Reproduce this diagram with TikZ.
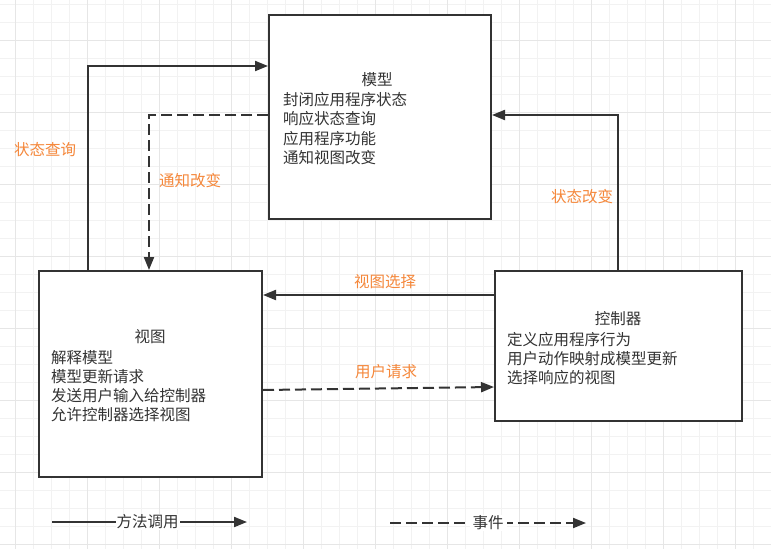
\documentclass[tikz,border=0pt]{standalone}
\usepackage{fontspec}
\newfontfamily\cjk{Noto Sans CJK SC}
\usetikzlibrary{arrows.meta}
\definecolor{ink}{HTML}{333333}
\definecolor{lblc}{HTML}{F5873A}
\definecolor{gridlight}{HTML}{F2F2F2}
\definecolor{gridheavy}{HTML}{E6E6E6}
\begin{document}
\begin{tikzpicture}[x=1pt,y=-1pt,
  box/.style={draw=ink, line width=2pt, fill=white, inner sep=0pt},
  txt/.style={font=\cjk\fontsize{15.5}{19.2}\selectfont, text=ink, inner sep=0pt},
  body/.style={txt, align=left, anchor=west},
  lbl/.style={font=\cjk\fontsize{15.5}{19.2}\selectfont, text=lblc, inner sep=0pt},
  call/.style={draw=ink, line width=2pt, -{Triangle[length=13pt,width=10pt]}},
  event/.style={call, dash pattern=on 11pt off 5pt},
  legtxt/.style={txt, fill=white, inner sep=1pt}]
\useasboundingbox (0,0) rectangle (771,549);
\fill[white] (0,0) rectangle (771,549);
% grid
\foreach \gx in {15,33,...,771} \draw[gridlight, line width=1pt] (\gx,0) -- (\gx,549);
\foreach \gy in {4,22,...,549} \draw[gridlight, line width=1pt] (0,\gy) -- (771,\gy);
\foreach \gx in {15,87,...,771} \draw[gridheavy, line width=1pt] (\gx,0) -- (\gx,549);
\foreach \gy in {40,112,...,549} \draw[gridheavy, line width=1pt] (0,\gy) -- (771,\gy);
% boxes
\node[box, minimum width=222pt, minimum height=204pt] (model) at (380,117) {};
\node[box, minimum width=223pt, minimum height=206pt] (view) at (150.5,374) {};
\node[box, minimum width=247pt, minimum height=150pt] (ctrl) at (618.5,346) {};
% box texts
\node[txt] (modeltitle) at (377,80) {模型};
\node[body] (modelbody) at (283,128.5) {封闭应用程序状态\\响应状态查询\\应用程序功能\\通知视图改变};
\node[txt] (viewtitle) at (150,337) {视图};
\node[body] (viewbody) at (51,386) {解释模型\\模型更新请求\\发送用户输入给控制器\\允许控制器选择视图};
\node[txt] (ctrltitle) at (618,319) {控制器};
\node[body] (ctrlbody) at (507,358.5) {定义应用程序行为\\用户动作映射成模型更新\\选择响应的视图};
% connectors
\draw[call] ([xshift=50pt]view.north west) |- ([yshift=-52pt]model.north west);
\draw[event] ([yshift=-101pt]model.north west) -| ([xshift=111pt]view.north west);
\draw[call] ([xshift=124pt]ctrl.north west) |- ([yshift=-101pt]model.north east);
\draw[call] ([yshift=-25pt]ctrl.north west) -- ([yshift=-25pt]view.north east);
\draw[event] ([yshift=-120pt]view.north east) -- ([yshift=-117pt]ctrl.north west);
% labels
\node[lbl] (lq) at (45,150) {状态查询};
\node[lbl] (ln) at (190,181) {通知改变};
\node[lbl] (lc) at (582,197) {状态改变};
\node[lbl] (ls) at (385,282) {视图选择};
\node[lbl] (lr) at (386,372) {用户请求};
% legend
\coordinate (l1s) at (52,522);
\coordinate (l1e) at (247,522);
\coordinate (l2s) at (390,523);
\coordinate (l2e) at (586,523);
\draw[call] (l1s) -- (l1e) node[legtxt, pos=0.49] (legcall) {方法调用};
\draw[event] (l2s) -- (l2e) node[legtxt, pos=0.5, inner xsep=3pt] (legevent) {事件};
\end{tikzpicture}
\end{document}
